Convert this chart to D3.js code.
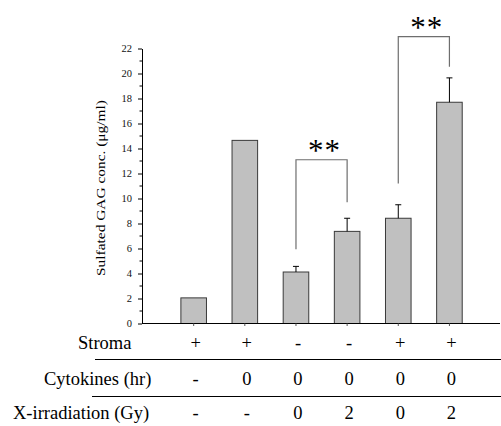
<!DOCTYPE html>
<html>
<head>
<meta charset="utf-8">
<script src="https://cdn.jsdelivr.net/npm/d3@7"></script>
<style>
  body { margin: 0; background: #fff; }
  svg { display: block; }
  svg text { font-family: "Liberation Serif", "Times New Roman", Times, serif; }
</style>
</head>
<body>
<svg id="chart" width="501" height="426"></svg>
<script>
// Six culture conditions
const groups   = ["g1", "g2", "g3", "g4", "g5", "g6"]
const gagConc  = [2.05, 14.65, 4.12, 7.37, 8.42, 17.7]
const gagError = [null, null, 0.45, 1.05, 1.08, 1.95]

const yTicks = [0, 2, 4, 6, 8, 10, 12, 14, 16, 18, 20, 22]

// Condition table under the axis
const rowLabels  = ["Stroma", "Cytokines (hr)", "X-irradiation (Gy)"]
const stromaRow  = ["+", "+", "-", "-", "+", "+"]
const cytoRow    = ["-", "0", "0", "0", "0", "0"]
const xrayRow    = ["-", "-", "0", "2", "0", "2"]

// Significance brackets: [left group, right group, left leg end, right leg end, top]
const brackets = [
  ["g3", "g4", 5.95, 9.7, 13.1],
  ["g5", "g6", 11.2, 20.55, 22.95]
]

const FONT = "'Liberation Serif', 'Times New Roman', Times, serif"
const svg = d3.select("#chart")

const x = d3.scaleBand().domain(groups).range([168.1, 475]).paddingInner(0.5).paddingOuter(0.25)
const y = d3.scaleLinear().domain([0, 22]).range([323.5, 48.5])
const cx = g => x(g) + x.bandwidth() / 2

// Bars
svg.append("g").selectAll("rect")
  .data(groups).enter().append("rect")
  .attr("x", d => x(d))
  .attr("y", (d, i) => y(gagConc[i]))
  .attr("width", x.bandwidth())
  .attr("height", (d, i) => y(0) - y(gagConc[i]))
  .attr("fill", "#c0c0c0")
  .attr("stroke", "#3a3a3a")
  .attr("stroke-width", 1)

// Error bars (upper only)
const eb = svg.append("g").attr("stroke", "#000").attr("stroke-width", 1)
groups.forEach((g, i) => {
  if (gagError[i] == null) return
  const top = y(gagConc[i] + gagError[i])
  eb.append("line").attr("x1", cx(g)).attr("x2", cx(g)).attr("y1", y(gagConc[i])).attr("y2", top)
  eb.append("line").attr("x1", cx(g) - 3).attr("x2", cx(g) + 3).attr("y1", top).attr("y2", top)
})

// Y axis with minor ticks
const yAxis = svg.append("g").attr("transform", "translate(142,0)")
  .call(d3.axisLeft(y).tickValues(yTicks).tickSize(4).tickPadding(6).tickSizeOuter(0))
yAxis.attr("font-family", FONT)
yAxis.selectAll("text").attr("font-size", 10.5).attr("fill", "#111")
yAxis.select(".domain").attr("stroke", "#000")
const minor = d3.range(1, 22, 2)
yAxis.selectAll(".minor").data(minor).enter().append("line")
  .attr("class", "minor").attr("x1", -2.5).attr("x2", 0)
  .attr("y1", d => y(d)).attr("y2", d => y(d)).attr("stroke", "#000")

// X axis line and small ticks
svg.append("line").attr("x1", 142).attr("x2", 500).attr("y1", y(0)).attr("y2", y(0))
  .attr("stroke", "#000").attr("stroke-width", 1.2)
svg.append("g").selectAll("line").data(groups).enter().append("line")
  .attr("x1", cx).attr("x2", cx).attr("y1", y(0)).attr("y2", y(0) + 2.5)
  .attr("stroke", "#555")

// Y axis title
svg.append("text")
  .attr("transform", `translate(105,${(y(0) + y(22)) / 2 + 2}) rotate(-90)`)
  .attr("text-anchor", "middle")
  .attr("font-family", FONT)
  .attr("font-size", 11.5)
  .attr("textLength", 176).attr("lengthAdjust", "spacingAndGlyphs")
  .text("Sulfated GAG conc. (\u03bcg/ml)")

// Significance brackets
brackets.forEach(([a, b, ya, yb, yt]) => {
  svg.append("path")
    .attr("d", `M${cx(a)},${y(ya)}V${y(yt)}H${cx(b)}V${y(yb)}`)
    .attr("fill", "none").attr("stroke", "#6e6e6e").attr("stroke-width", 1.2)
  svg.append("text")
    .attr("x", (cx(a) + cx(b)) / 2 + 3).attr("y", y(yt) + 1)
    .attr("text-anchor", "middle").attr("font-family", FONT)
    .attr("font-size", 31).attr("letter-spacing", 1)
    .text("**")
})

// Condition table
const rows = [stromaRow, cytoRow, xrayRow]
const rowY = [348.5, 384.5, 418.5]
const labelX = [78, 44, 13]
rows.forEach((vals, r) => {
  svg.append("text").attr("x", labelX[r]).attr("y", rowY[r])
    .attr("font-family", FONT).attr("font-size", 18.5).text(rowLabels[r])
  svg.append("g").selectAll("text").data(vals).enter().append("text")
    .attr("x", (d, i) => cx(groups[i]) + 2).attr("y", rowY[r])
    .attr("text-anchor", "middle").attr("font-family", FONT).attr("font-size", 18.5)
    .text(d => d)
})
svg.append("line").attr("x1", 95).attr("x2", 501).attr("y1", 359.5).attr("y2", 359.5).attr("stroke", "#000")
svg.append("line").attr("x1", 92).attr("x2", 501).attr("y1", 396.5).attr("y2", 396.5).attr("stroke", "#000")
</script>
</body>
</html>
